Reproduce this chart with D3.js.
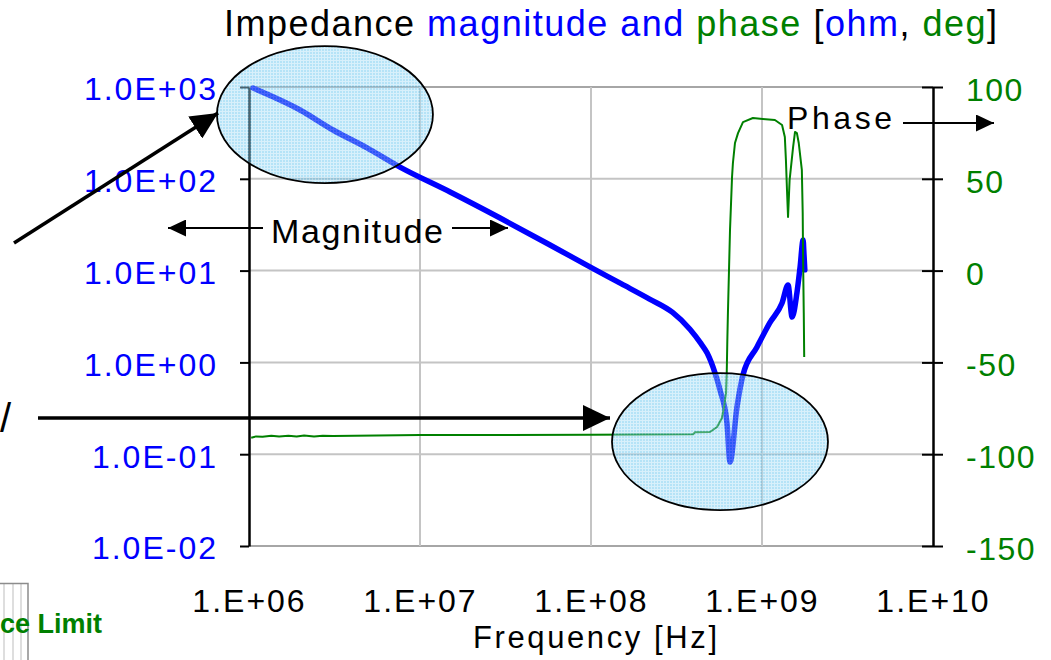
<!DOCTYPE html>
<html>
<head>
<meta charset="utf-8">
<script src="https://cdn.jsdelivr.net/npm/d3@7"></script>
<style>
  html, body { margin: 0; padding: 0; background: #ffffff; }
  svg { display: block; font-family: "Liberation Sans", Arial, sans-serif; }
</style>
</head>
<body>
<svg id="chart" width="1051" height="660"></svg>
<script>
// ---- Data ----
// Impedance magnitude sweep (Hz, ohm)
const magFreq = [1.055e6, 1.99e6, 3.1e6, 4.9e6, 7.64e6, 1.5e7, 2.94e7, 5.76e7, 1.01e8, 1.5e8,
                 2.2e8, 3.0e8, 3.79e8, 4.4e8, 4.77e8, 5.31e8, 5.68e8, 6.24e8, 6.50e8, 7.14e8,
                 7.74e8, 9.35e8, 1.11e9, 1.31e9, 1.42e9, 1.50e9, 1.60e9, 1.67e9, 1.74e9, 1.76e9,
                 1.78e9];
const magOhm  = [975, 562, 340, 217, 134, 71.8, 37.4, 19.0, 10.7, 7.2,
                 4.9, 3.5, 2.3, 1.6, 1.27, 0.767, 0.50, 0.219, 0.0822, 0.327,
                 0.729, 1.47, 2.69, 4.44, 6.97, 3.12, 5.70, 10.9, 21.5, 15.0,
                 10.2];

// Impedance phase sweep (Hz, deg)
const phFreq = [1.03e6, 1.1e6, 1.2e6, 1.35e6, 1.5e6, 1.7e6, 1.9e6, 2.1e6, 2.4e6, 2.7e6,
                3.1e6, 1e7, 1e8, 3.95e8, 4.06e8, 4.96e8, 5.46e8, 5.83e8, 6.0e8, 6.16e8,
                6.22e8, 6.27e8, 6.32e8, 6.50e8, 6.68e8, 6.76e8, 6.95e8, 7.24e8, 7.74e8, 8.85e8,
                1.01e9, 1.19e9, 1.31e9, 1.36e9, 1.38e9, 1.40e9, 1.42e9, 1.45e9, 1.52e9, 1.56e9,
                1.60e9, 1.64e9, 1.71e9, 1.73e9, 1.74e9, 1.755e9, 1.765e9];
const phDeg  = [-91.0, -90.3, -90.5, -89.9, -90.4, -90.0, -90.3, -89.8, -90.3, -89.9,
                -90.1, -89.6, -89.4, -89.2, -88.0, -87.9, -85.2, -80.3, -74.3, -66.7,
                -55.8, -37.8, -23.1, 22.1, 51.0, 58.6, 69.5, 74.9, 80.9, 83.1,
                82.6, 82.0, 79.3, 72.8, 60.2, 43.9, 29.2, 49.3, 67.3, 75.5,
                74.9, 69.5, 54.8, 31.4, 4.1, -23.1, -47.1];

// Axis ticks and labels
const freqTicks = [1e6, 1e7, 1e8, 1e9, 1e10];
const freqTickLabels = ["1.E+06", "1.E+07", "1.E+08", "1.E+09", "1.E+10"];
const magTicks = [1e-2, 1e-1, 1e0, 1e1, 1e2, 1e3];
const magTickLabels = ["1.0E-02", "1.0E-01", "1.0E+00", "1.0E+01", "1.0E+02", "1.0E+03"];
const phaseTicks = [-150, -100, -50, 0, 50, 100];
const phaseTickLabels = ["-150", "-100", "-50", "0", "50", "100"];

// ---- Layout ----
const plot = { left: 249, right: 933, top: 87, bottom: 546 };
const BLUE = "#0000ff", GREEN = "#008000";

const svg = d3.select("#chart");

const x = d3.scaleLog().domain([1e6, 1e10]).range([plot.left, plot.right]);
const yMag = d3.scaleLog().domain([1e-2, 1e3]).range([plot.bottom, plot.top]);
const yPh = d3.scaleLinear().domain([-150, 100]).range([plot.bottom, plot.top]);

// Fill pattern for the highlight ellipses
const defs = svg.append("defs");
const pat = defs.append("pattern").attr("id", "hatch")
  .attr("width", 3).attr("height", 3).attr("patternUnits", "userSpaceOnUse");
pat.append("rect").attr("width", 3).attr("height", 3).attr("fill", "#5cc0ee");
pat.append("path").attr("d", "M0 0.5H3M0.5 0V3").attr("stroke", "#a8def7").attr("stroke-width", 1);

function arrowMarker(id, len, half) {
  defs.append("marker").attr("id", id)
    .attr("markerUnits", "userSpaceOnUse")
    .attr("viewBox", `0 ${-half} ${len} ${2 * half}`)
    .attr("refX", len).attr("refY", 0)
    .attr("markerWidth", len).attr("markerHeight", 2 * half)
    .attr("orient", "auto")
    .append("path").attr("d", `M0,${-half}L${len},0L0,${half}Z`).attr("fill", "#000");
}
arrowMarker("headBig", 27, 13);
arrowMarker("headSmall", 18, 8.5);

// ---- Grid ----
const grid = svg.append("g");
grid.selectAll("line.h").data(magTicks).join("line")
  .attr("x1", plot.left).attr("x2", plot.right)
  .attr("y1", d => yMag(d)).attr("y2", d => yMag(d))
  .attr("stroke", (d, i) => (i === 0 || i === magTicks.length - 1) ? "#a6a6a6" : "#c4c4c4")
  .attr("stroke-width", 2);
grid.selectAll("line.v").data(freqTicks.slice(1, -1)).join("line")
  .attr("x1", d => x(d)).attr("x2", d => x(d))
  .attr("y1", plot.top).attr("y2", plot.bottom)
  .attr("stroke", "#c4c4c4").attr("stroke-width", 2);

// ---- Axes ----
const fontSize = 32;

const leftAxis = svg.append("g").attr("transform", `translate(${plot.left},0)`)
  .call(d3.axisLeft(yMag).tickValues(magTicks)
    .tickFormat((d, i) => magTickLabels[i]).tickSize(9).tickSizeOuter(0).tickPadding(22));
leftAxis.select(".domain").attr("stroke", "#000").attr("stroke-width", 2.5);
leftAxis.selectAll(".tick line").attr("stroke", "#000").attr("stroke-width", 2);
leftAxis.selectAll(".tick text").attr("fill", BLUE).attr("font-size", fontSize)
  .attr("font-family", "Liberation Sans, Arial, sans-serif")
  .attr("letter-spacing", 2).attr("dy", "0.4em");

const rightAxis = svg.append("g").attr("transform", `translate(${plot.right},0)`)
  .call(d3.axisRight(yPh).tickValues(phaseTicks)
    .tickFormat((d, i) => phaseTickLabels[i]).tickSize(10).tickSizeOuter(0).tickPadding(23));
rightAxis.select(".domain").attr("stroke", "#000").attr("stroke-width", 2.5);
rightAxis.selectAll(".tick line").attr("x1", -11).attr("stroke", "#000").attr("stroke-width", 2);
rightAxis.selectAll(".tick text").attr("fill", GREEN).attr("font-size", fontSize)
  .attr("font-family", "Liberation Sans, Arial, sans-serif")
  .attr("letter-spacing", 1.5).attr("dy", "0.42em");

const bottomAxis = svg.append("g").attr("transform", `translate(0,${plot.bottom})`)
  .call(d3.axisBottom(x).tickValues(freqTicks)
    .tickFormat((d, i) => freqTickLabels[i]).tickSize(0).tickPadding(43));
bottomAxis.select(".domain").remove();
bottomAxis.selectAll(".tick text").attr("fill", "#000").attr("font-size", fontSize)
  .attr("font-family", "Liberation Sans, Arial, sans-serif")
  .attr("letter-spacing", 2);

// ---- Series ----
const magLine = d3.line().curve(d3.curveMonotoneX).x(d => x(d[0])).y(d => yMag(d[1]));
svg.append("path")
  .datum(magFreq.map((f, i) => [f, magOhm[i]]))
  .attr("d", magLine)
  .attr("fill", "none").attr("stroke", BLUE).attr("stroke-width", 5.5)
  .attr("stroke-linejoin", "round").attr("stroke-linecap", "round");

const phLine = d3.line().x(d => x(d[0])).y(d => yPh(d[1]));
svg.append("path")
  .datum(phFreq.map((f, i) => [f, phDeg[i]]))
  .attr("d", phLine)
  .attr("fill", "none").attr("stroke", GREEN).attr("stroke-width", 2)
  .attr("stroke-linejoin", "round");

// ---- Highlight ellipses (anchored on the curve regions) ----
const highlights = [
  { f: 2.78e6, z: 501 },
  { f: 5.68e8, z: 0.137 }
];
const ell = svg.append("g");
highlights.forEach(h => {
  ell.append("ellipse").attr("cx", x(h.f)).attr("cy", yMag(h.z))
    .attr("rx", 108).attr("ry", 68.5)
    .attr("fill", "url(#hatch)").attr("fill-opacity", 0.45);
  ell.append("ellipse").attr("cx", x(h.f)).attr("cy", yMag(h.z))
    .attr("rx", 108).attr("ry", 68.5)
    .attr("fill", "none").attr("stroke", "#000").attr("stroke-width", 1.8);
});

// ---- Annotation arrows ----
const arrows = [
  { x1: 14, y1: 243, x2: 218, y2: 113, w: 3.5, head: "headBig" },
  { x1: 38, y1: 418, x2: 610, y2: 418, w: 3.5, head: "headBig" },
  { x1: 263, y1: 228, x2: 168, y2: 228, w: 2, head: "headSmall" },
  { x1: 452, y1: 228, x2: 508, y2: 228, w: 2, head: "headSmall" },
  { x1: 903, y1: 123, x2: 994, y2: 123, w: 2, head: "headSmall" }
];
svg.append("g").selectAll("line").data(arrows).join("line")
  .attr("x1", d => d.x1).attr("y1", d => d.y1)
  .attr("x2", d => d.x2).attr("y2", d => d.y2)
  .attr("stroke", "#000").attr("stroke-width", d => d.w)
  .attr("marker-end", d => `url(#${d.head})`);

// ---- Texts ----
const title = svg.append("text")
  .attr("x", 224).attr("y", 36).attr("font-size", 36)
  .attr("textLength", 773).attr("lengthAdjust", "spacing");
[["Impedance ", "#000"], ["magnitude and ", BLUE], ["phase ", GREEN], ["[", "#000"],
 ["ohm", BLUE], [", ", "#000"], ["deg", GREEN], ["]", "#000"]]
  .forEach(([t, c]) => title.append("tspan").attr("fill", c).text(t));

svg.append("text").attr("x", 271).attr("y", 243).attr("font-size", 34)
  .attr("textLength", 172).attr("lengthAdjust", "spacing").attr("fill", "#000")
  .text("Magnitude");

svg.append("text").attr("x", 787).attr("y", 129).attr("font-size", 32)
  .attr("textLength", 105).attr("lengthAdjust", "spacing").attr("fill", "#000")
  .text("Phase");

svg.append("text").attr("x", 473).attr("y", 648).attr("font-size", 31)
  .attr("textLength", 244).attr("lengthAdjust", "spacing").attr("fill", "#000")
  .text("Frequency [Hz]");

svg.append("text").attr("x", 0).attr("y", 432).attr("font-size", 40).attr("fill", "#000")
  .text("/");

// Corner box with partial label
const box = svg.append("g");
[4, 13, 21].forEach(bx => box.append("line")
  .attr("x1", bx).attr("x2", bx).attr("y1", 584).attr("y2", 660)
  .attr("stroke", "#c8c8c8").attr("stroke-width", 1.2));
box.append("path").attr("d", "M-2,583.5H28V660")
  .attr("fill", "none").attr("stroke", "#8c8c8c").attr("stroke-width", 1.5);
svg.append("text").attr("x", 0).attr("y", 633).attr("font-size", 27)
  .attr("font-weight", "bold").attr("fill", GREEN).text("ce Limit");
</script>
</body>
</html>
